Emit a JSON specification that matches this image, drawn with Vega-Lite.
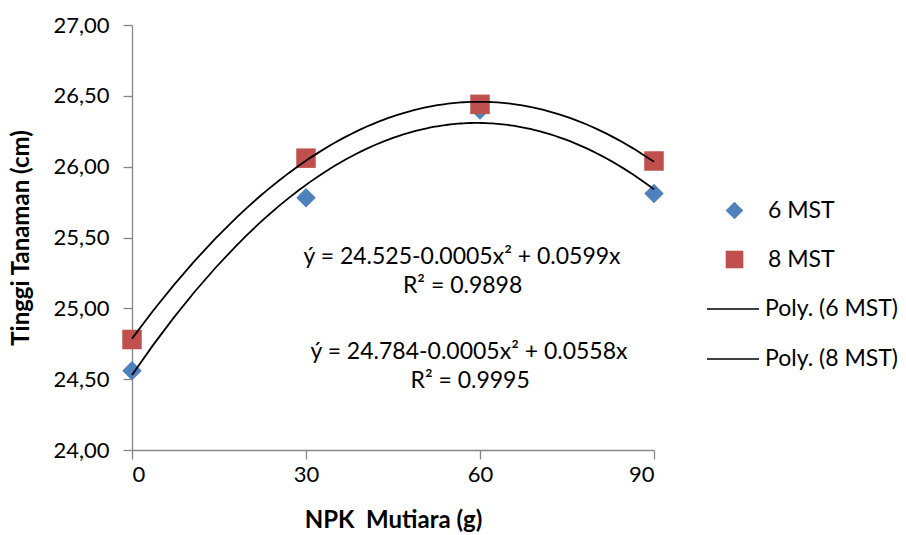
{
  "$schema": "https://vega.github.io/schema/vega-lite/v6.json",
  "width": 522,
  "height": 425,
  "autosize": {"type": "none"},
  "padding": {"left": 132, "top": 25, "right": 252, "bottom": 85},
  "background": "white",
  "config": {
    "font": "Lato",
    "view": {"stroke": null},
    "axis": {
      "grid": false,
      "domainColor": "#868686",
      "tickColor": "#868686",
      "domainWidth": 1.3,
      "tickWidth": 1.3,
      "tickSize": 9,
      "labelFont": "Lato",
      "labelFontSize": 22,
      "labelColor": "#000000",
      "titleFont": "Lato",
      "titleFontSize": 24,
      "titleFontWeight": "bold",
      "titleColor": "#000000"
    },
    "legend": {
      "orient": "none", "padding": 0,
      "labelFontSize": 23, "labelFont": "Lato", "labelColor": "#000000"
    }
  },
  "resolve": {"scale": {"color": "independent", "shape": "independent"}, "legend": {"color": "independent", "shape": "independent"}},
  "datasets": {
    "pts": [
      {"x": 0, "y": 24.56, "s": "6 MST"},
      {"x": 30, "y": 25.78, "s": "6 MST"},
      {"x": 60, "y": 26.40, "s": "6 MST"},
      {"x": 90, "y": 25.81, "s": "6 MST"},
      {"x": 0, "y": 24.78, "s": "8 MST"},
      {"x": 30, "y": 26.06, "s": "8 MST"},
      {"x": 60, "y": 26.44, "s": "8 MST"},
      {"x": 90, "y": 26.04, "s": "8 MST"}
    ],
    "trend": [
      {"x": 0, "y": 24.56, "s": "Poly. (6 MST)"},
      {"x": 30, "y": 25.78, "s": "Poly. (6 MST)"},
      {"x": 60, "y": 26.40, "s": "Poly. (6 MST)"},
      {"x": 90, "y": 25.81, "s": "Poly. (6 MST)"},
      {"x": 0, "y": 24.78, "s": "Poly. (8 MST)"},
      {"x": 30, "y": 26.06, "s": "Poly. (8 MST)"},
      {"x": 60, "y": 26.44, "s": "Poly. (8 MST)"},
      {"x": 90, "y": 26.04, "s": "Poly. (8 MST)"}
    ],
    "notes": [
      {"x": 56.9, "y": 25.36, "t": "ý =  24.525-0.0005x² + 0.0599x"},
      {"x": 57.0, "y": 25.16, "t": "R² = 0.9898"},
      {"x": 58.1, "y": 24.69, "t": "ý = 24.784-0.0005x² + 0.0558x"},
      {"x": 58.3, "y": 24.49, "t": "R² = 0.9995"}
    ]
  },
  "layer": [
    {
      "data": {"name": "pts"},
      "mark": {"type": "point", "filled": true, "opacity": 1, "size": 380},
      "encoding": {
        "x": {"field": "x", "type": "quantitative", "scale": {"domain": [0, 90], "nice": false, "zero": false},
              "axis": {"values": [0, 30, 60, 90], "title": "NPK\u00a0 Mutiara (g)", "labelPadding": 5, "titlePadding": 23}},
        "y": {"field": "y", "type": "quantitative", "scale": {"domain": [24, 27], "nice": false, "zero": false},
              "axis": {"values": [24, 24.5, 25, 25.5, 26, 26.5, 27], "title": "Tinggi Tanaman (cm)",
                       "labelExpr": "replace(format(datum.value, '.2f'), '.', ',')", "labelPadding": 14, "titlePadding": 19}},
        "color": {"field": "s", "type": "nominal",
                  "scale": {"domain": ["6 MST", "8 MST"], "range": ["#4F81BD", "#C0504D"]},
                  "legend": {"title": null, "legendX": 591, "legendY": 174, "symbolSize": 310, "labelOffset": 22, "rowPadding": 24, "symbolOpacity": 1}},
        "shape": {"field": "s", "type": "nominal",
                  "scale": {"domain": ["6 MST", "8 MST"], "range": ["diamond", "square"]},
                  "legend": {"title": null, "legendX": 591, "legendY": 174, "symbolSize": 310, "labelOffset": 22, "rowPadding": 24, "symbolOpacity": 1}}
      }
    },
    {
      "data": {"name": "trend"},
      "transform": [{"regression": "y", "on": "x", "groupby": ["s"], "method": "poly", "order": 2, "extent": [0, 90]}],
      "mark": {"type": "line", "strokeWidth": 1.8},
      "encoding": {
        "x": {"field": "x", "type": "quantitative"},
        "y": {"field": "y", "type": "quantitative"},
        "color": {"field": "s", "type": "nominal",
                  "scale": {"domain": ["Poly. (6 MST)", "Poly. (8 MST)"], "range": ["#000000", "#000000"]},
                  "legend": {"title": null, "legendX": 574, "legendY": 257, "symbolType": "stroke", "symbolSize": 2704,
                             "symbolStrokeWidth": 1.5, "symbolStrokeColor": "#000000", "labelOffset": 5, "rowPadding": 11}}
      }
    },
    {
      "data": {"name": "notes"},
      "mark": {"type": "text", "fontSize": 23, "font": "Lato", "color": "#000000"},
      "encoding": {
        "x": {"field": "x", "type": "quantitative"},
        "y": {"field": "y", "type": "quantitative"},
        "text": {"field": "t"}
      }
    }
  ]
}
